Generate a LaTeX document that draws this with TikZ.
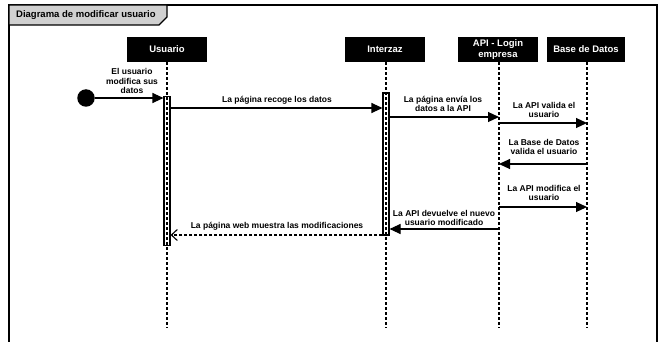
\documentclass[tikz,border=0pt]{standalone}
\usepackage{fontspec}
\setmainfont{Liberation Sans}
\usetikzlibrary{arrows.meta}
\definecolor{tabgrey}{HTML}{D0D0D0}
\tikzset{
  header/.style={fill=black, text=white, font=\bfseries\fontsize{9.5}{10.5}\selectfont, minimum width=80, minimum height=25, inner sep=0pt, align=center},
  lifeline/.style={line width=1.1pt, dash pattern=on 3pt off 2pt},
  actbox/.style={draw, line width=1.1pt, minimum width=6, inner sep=0pt},
  msg/.style={line width=1.1pt, -{Triangle[length=11pt,width=10pt]}},
  reply/.style={line width=1.1pt, dash pattern=on 3pt off 2pt, -{Straight Barb[length=6pt,width=11pt,line width=1.1pt]}},
  lbl/.style={font=\bfseries\fontsize{8.5}{9.5}\selectfont, align=center, inner sep=0pt},
  startdot/.style={circle, fill=black, minimum size=17.5, inner sep=0pt},
}
\begin{document}
\begin{tikzpicture}[x=1pt,y=-1pt]
\useasboundingbox (0,0) rectangle (663,342);
% frame
\draw[line width=1.2pt] (9,345) -- (9,5) -- (657,5) -- (657,345);
\draw[line width=1.2pt, fill=tabgrey] (9,5) -- (167,5) -- (167,17) -- (159,25) -- (9,25) -- cycle;
\node[anchor=west, font=\bfseries\fontsize{9.5}{11}\selectfont, inner sep=0pt] (title) at (16,15) {Diagrama de modificar usuario};
% headers
\node[header] (usuario) at (167,49.5) {Usuario};
\node[header] (interzaz) at (385,49.5) {Interzaz};
\node[header] (api) at (498,49.5) {API - Login\\empresa};
\node[header, minimum width=78] (bd) at (586,49.5) {Base de Datos};
% lifeline ends
\coordinate (uEnd) at (167,328);
\coordinate (iEnd) at (386,328);
\coordinate (aEnd) at (499,328);
\coordinate (bEnd) at (587,328);
\draw[lifeline] (usuario.south) -- (uEnd);
\draw[lifeline] (interzaz.south -| iEnd) -- (iEnd);
\draw[lifeline] (api.south -| aEnd) -- (aEnd);
\draw[lifeline] (bd.south -| bEnd) -- (bEnd);
% activations
\node[actbox, minimum height=149] (actU) at (167,171) {};
\node[actbox, minimum height=142] (actI) at (386,164) {};
% start
\node[startdot] (start) at (86,98) {};
\coordinate (m1e) at (actU.west |- start);
\draw[msg] (start) -- (m1e);
\node[lbl] (l1) at (132,81) {El usuario\\modifica sus\\datos};
% m2
\coordinate (m2s) at (actU.east |- 0,108);
\coordinate (m2e) at (actI.west |- 0,108);
\draw[msg] (m2s) -- (m2e);
\node[lbl] (l2) at (277,100) {La página recoge los datos};
% m3
\coordinate (m3s) at (actI.east |- 0,117);
\coordinate (m3e) at (aEnd |- 0,117);
\draw[msg] (m3s) -- (m3e);
\node[lbl] (l3) at (443,104) {La página envía los\\datos a la API};
% m4
\coordinate (m4s) at (aEnd |- 0,123);
\coordinate (m4e) at (bEnd |- 0,123);
\draw[msg] (m4s) -- (m4e);
\node[lbl] (l4) at (544,110) {La API valida el\\usuario};
% m5
\coordinate (m5s) at (bEnd |- 0,164);
\coordinate (m5e) at (aEnd |- 0,164);
\draw[msg] (m5s) -- (m5e);
\node[lbl] (l5) at (544,147) {La Base de Datos\\valida el usuario};
% m6
\coordinate (m6s) at (aEnd |- 0,207);
\coordinate (m6e) at (bEnd |- 0,207);
\draw[msg] (m6s) -- (m6e);
\node[lbl] (l6) at (544,193) {La API modifica el\\usuario};
% m7
\coordinate (m7s) at (aEnd |- 0,229);
\coordinate (m7e) at (actI.east |- 0,229);
\draw[msg] (m7s) -- (m7e);
\node[lbl] (l7) at (444,218) {La API devuelve el nuevo\\usuario modificado};
% m8
\coordinate (m8s) at (actI.west |- 0,235);
\coordinate (m8e) at (actU.east |- 0,235);
\draw[reply] (m8s) -- (m8e);
\node[lbl] (l8) at (277,226) {La página web muestra las modificaciones};
\end{tikzpicture}
\end{document}
